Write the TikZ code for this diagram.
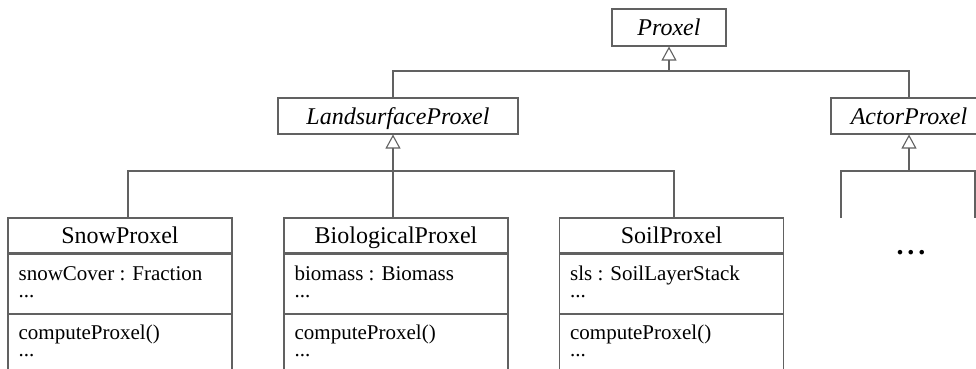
\documentclass[tikz,border=0pt]{standalone}
\usepackage{fontspec}
\setmainfont{Liberation Serif}
\usetikzlibrary{arrows.meta,calc}
\begin{document}
\begin{tikzpicture}[x=1pt,y=-1pt,
  edge/.style={draw=black!62, line width=1.1pt},
  inherit/.style={edge, -{Triangle[open,width=15pt,length=14pt]}},
  abstractcls/.style={edge, inner sep=0pt, text height=16.5pt, text depth=0pt,
    font=\fontsize{24}{28}\selectfont\itshape},
  clsname/.style={edge, minimum width=224pt, minimum height=35pt, inner sep=0pt,
    text height=16pt, text depth=0pt, font=\fontsize{24}{28}\selectfont},
  compart/.style={edge, minimum width=224pt, inner sep=0pt},
  attrs/.style={compart, minimum height=59pt, anchor=north},
  ops/.style={compart, minimum height=70pt, anchor=north},
  % the base anchor of a two-line member list sits on its last line
  member/.style={anchor=base west, inner sep=0pt, align=left,
    font=\fontsize{21}{17}\selectfont},
]
\useasboundingbox (0,0) rectangle (976,369);
\clip (0,0) rectangle (976,369);

% abstract classes
\node[abstractcls, minimum width=114pt, minimum height=37pt] (proxel) at (669,27.5) {Proxel};
\node[abstractcls, minimum width=240pt, minimum height=36pt] (lsp) at (398,116) {LandsurfaceProxel};
\node[abstractcls, minimum width=156pt, minimum height=36pt] (actor) at (909,116) {ActorProxel};

% concrete land-surface classes
\node[clsname] (snow) at (120,235.5) {SnowProxel};
\node[attrs] (snowA) at (snow.south) {};
\node[ops] (snowM) at (snowA.south) {};
\node[member] (snowAt) at ($(snowA.north west)+(11,44)$) {snowCover : Fraction\\...};
\node[member] (snowOp) at ($(snowM.north west)+(11,43)$) {computeProxel()\\...};

\node[clsname] (bio) at (396,235.5) {BiologicalProxel};
\node[attrs] (bioA) at (bio.south) {};
\node[ops] (bioM) at (bioA.south) {};
\node[member] (bioAt) at ($(bioA.north west)+(11,44)$) {biomass : Biomass\\...};
\node[member] (bioOp) at ($(bioM.north west)+(11,43)$) {computeProxel()\\...};

\node[clsname] (soil) at (671.5,235.5) {SoilProxel};
\node[attrs] (soilA) at (soil.south) {};
\node[ops] (soilM) at (soilA.south) {};
\node[member] (soilAt) at ($(soilA.north west)+(11,44)$) {sls : SoilLayerStack\\...};
\node[member] (soilOp) at ($(soilM.north west)+(11,43)$) {computeProxel()\\...};

% generalisation: Proxel
\coordinate (j1) at (669,71);
\draw[inherit] (j1) -- (proxel.south);
\draw[edge] ([xshift=-5pt]lsp.north) |- (j1) -| (actor.north);

% generalisation: LandsurfaceProxel
\coordinate (j2) at (393,171);
\draw[inherit] ([xshift=-3pt]bio.north) -- ([xshift=-5pt]lsp.south);
\draw[edge] ([xshift=8pt]snow.north) |- (j2) -| ([xshift=2.5pt]soil.north);

% generalisation: ActorProxel (subclasses elided)
\coordinate (j3) at (909,171);
\coordinate (sub1) at (841,218);
\coordinate (sub2) at (975,218);
\draw[inherit] (j3) -- (actor.south);
\draw[edge] (sub1) |- (j3) -| (sub2);
\node[font=\fontsize{28}{30}\selectfont\bfseries, inner sep=0pt, anchor=base] (more) at (911,254)
  {.\hspace{4pt}.\hspace{4pt}.};
\end{tikzpicture}
\end{document}
